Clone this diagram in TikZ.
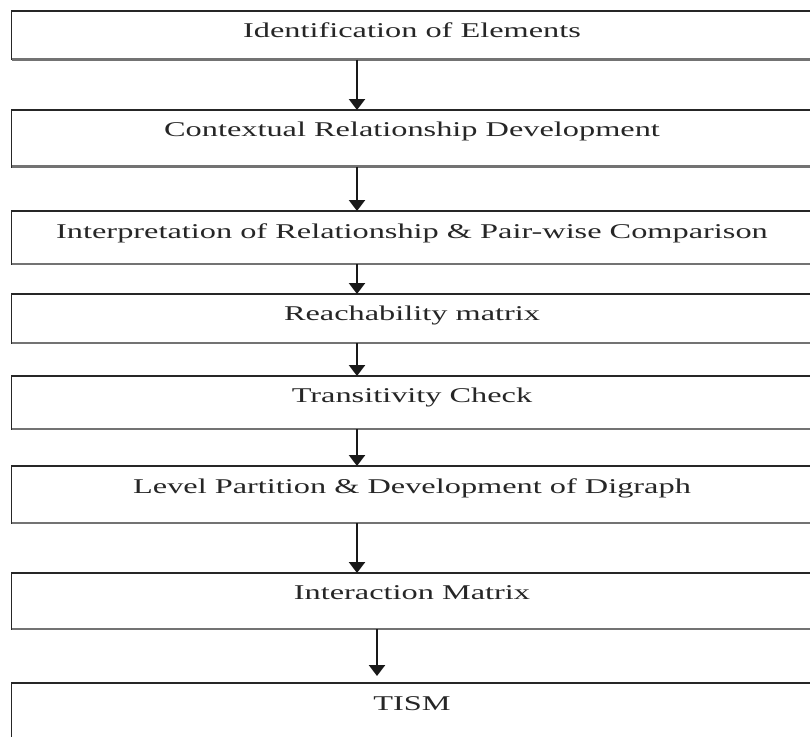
\documentclass[tikz,border=0pt]{standalone}
\usepackage{fontspec}
\setmainfont{Liberation Serif}
\usetikzlibrary{arrows.meta}
\begin{document}
\begin{tikzpicture}[x=1pt,y=-1pt,
  stepbox/.style={draw=black!85, line width=1.8pt, minimum width=803.5pt, inner sep=0pt, outer sep=0pt},
  bottomedge/.style={draw=black!55, line width=2.6pt},
  lbl/.style={anchor=base, inner sep=0pt, font=\fontsize{21}{25}\selectfont, text=black!85},
  arr/.style={draw=black!90, line width=2.4pt, -{Triangle[width=16pt,length=11pt]}}]
\useasboundingbox (0,0) rectangle (810,736);
\clip (0,0) rectangle (810,736);
\fill[white] (0,0) rectangle (810,736);
\coordinate (ax) at (357,0);
\coordinate (ax7) at (377,0);
% boxes
\node[stepbox, minimum height=48.8pt] (b1) at (413.25,35.1) {};
\node[stepbox, minimum height=56.7pt] (b2) at (413.25,138.35) {};
\node[stepbox, minimum height=53pt] (b3) at (413.25,237.5) {};
\node[stepbox, minimum height=49pt] (b4) at (413.25,318.5) {};
\node[stepbox, minimum height=53pt] (b5) at (413.25,402.5) {};
\node[stepbox, minimum height=57pt] (b6) at (413.25,494.5) {};
\node[stepbox, minimum height=56pt] (b7) at (413.25,601) {};
\node[stepbox, minimum height=80pt] (b8) at (413.25,723) {};
\foreach \b in {b1,b2,b3,b4,b5,b6,b7}{
  \draw[bottomedge] (\b.south west) -- (\b.south east);
}
% labels
\node[lbl] (t1) at (412,37.7) {\scalebox{1.54}[1]{Identification of Elements}};
\node[lbl] (t2) at (412,136.7) {\scalebox{1.54}[1]{Contextual Relationship Development}};
\node[lbl] (t3) at (412,238) {\scalebox{1.54}[1]{Interpretation of Relationship \& Pair-wise Comparison}};
\node[lbl] (t4) at (412,320) {\scalebox{1.54}[1]{Reachability matrix}};
\node[lbl] (t5) at (412,402) {\scalebox{1.54}[1]{Transitivity Check}};
\node[lbl] (t6) at (412,493) {\scalebox{1.54}[1]{Level Partition \& Development of Digraph}};
\node[lbl] (t7) at (412,599) {\scalebox{1.54}[1]{Interaction Matrix}};
\node[lbl] (t8) at (412,710) {\scalebox{1.54}[1]{TISM}};
% arrows
\draw[arr] (b1.south -| ax) -- (b2.north -| ax);
\draw[arr] (b2.south -| ax) -- (b3.north -| ax);
\draw[arr] (b3.south -| ax) -- (b4.north -| ax);
\draw[arr] (b4.south -| ax) -- (b5.north -| ax);
\draw[arr] (b5.south -| ax) -- (b6.north -| ax);
\draw[arr] (b6.south -| ax) -- (b7.north -| ax);
\coordinate (e7) at (377,676);
\draw[arr] (b7.south -| ax7) -- (e7);
\end{tikzpicture}
\end{document}
